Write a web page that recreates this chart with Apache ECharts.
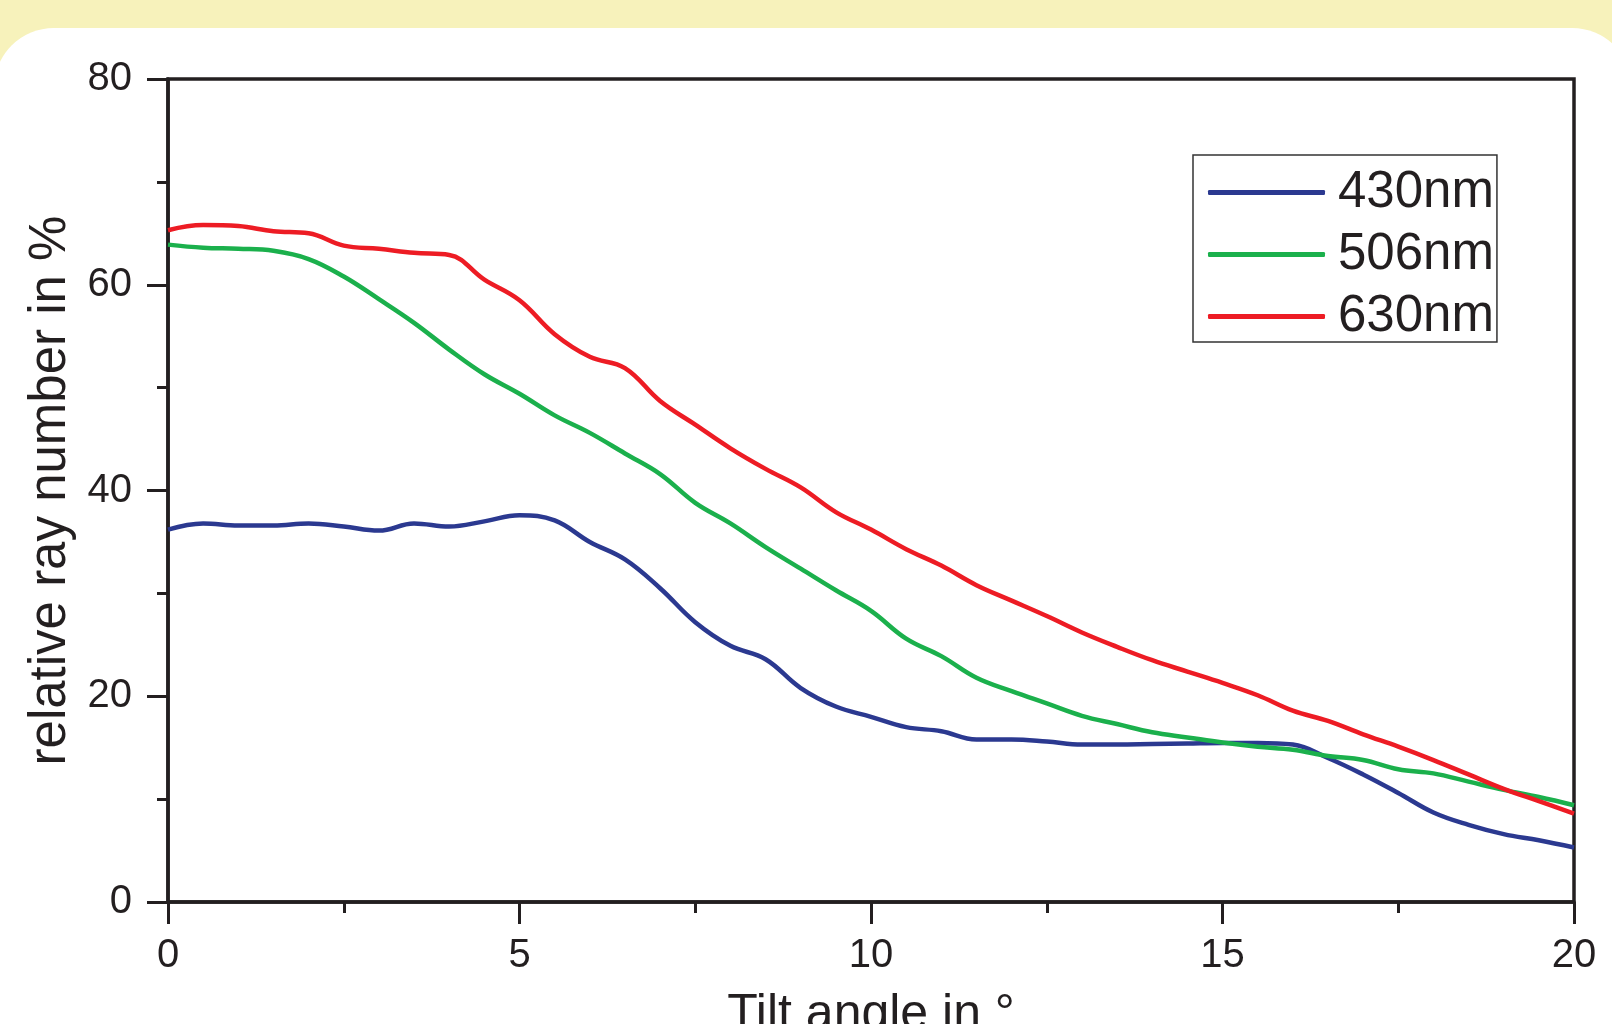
<!DOCTYPE html>
<html>
<head>
<meta charset="utf-8">
<script src="https://cdn.jsdelivr.net/npm/echarts@6/dist/echarts.min.js"></script>
<style>
html,body{margin:0;padding:0;background:#F7F2BB;}
#chart{width:1612px;height:1024px;}
</style>
</head>
<body>
<div id="chart"></div>
<script>
const angles = [0,0.5,1,1.5,2,2.5,3,3.5,4,4.5,5,5.5,6,6.5,7,7.5,8,8.5,9,9.5,10,10.5,11,11.5,12,12.5,13,13.5,14,14.5,15,15.5,16,16.5,17,17.5,18,18.5,19,19.5,20];
const nm430 = [36.2,36.8,36.6,36.6,36.8,36.5,36.1,36.8,36.5,37.0,37.6,37.1,35.0,33.3,30.5,27.2,24.9,23.6,20.8,19.0,18.0,17.0,16.6,15.8,15.8,15.6,15.3,15.3,15.35,15.4,15.45,15.45,15.3,14.0,12.4,10.6,8.7,7.5,6.6,6.0,5.3];
const nm506 = [63.9,63.6,63.5,63.3,62.5,60.8,58.6,56.3,53.7,51.3,49.4,47.3,45.6,43.6,41.6,38.8,36.8,34.5,32.4,30.3,28.3,25.6,23.9,21.8,20.5,19.3,18.1,17.3,16.5,16.0,15.5,15.1,14.8,14.2,13.8,12.9,12.5,11.7,10.9,10.2,9.4];
const nm630 = [65.3,65.8,65.7,65.2,65.0,63.8,63.5,63.1,62.9,60.5,58.5,55.2,53.0,51.9,48.7,46.4,44.1,42.1,40.3,37.9,36.2,34.3,32.7,30.8,29.3,27.8,26.2,24.8,23.5,22.4,21.3,20.1,18.6,17.6,16.3,15.1,13.8,12.4,11.0,9.8,8.6];
const seriesNames = ['430nm','506nm','630nm'];
const seriesColors = ['#2B3990','#1BB04C','#ED1C24'];
const xTitle = 'Tilt angle in °';
const yTitle = 'relative ray number in %';

const pair = arr => angles.map((a,i)=>[a,arr[i]]);
const dataSets = [nm430, nm506, nm630];
const axisColor = '#231F20';
const font = 'Liberation Sans, Arial, sans-serif';

const chart = echarts.init(document.getElementById('chart'));
chart.setOption({
  backgroundColor: '#F7F2BB',
  animation: false,
  graphic: [{
    type: 'rect', z: -1,
    shape: {x: -6, y: 28, width: 1638, height: 1100, r: 60},
    style: {fill: '#ffffff'}
  }],
  grid: {left: 168, right: 38, top: 79, bottom: 122, show: true, borderColor: axisColor, borderWidth: 3.5, backgroundColor: 'transparent', containLabel: false, outerBoundsMode: 'none'},
  legend: {
    left: 1193, top: 155, orient: 'vertical',
    icon: 'roundRect',
    itemWidth: 117, itemHeight: 5, itemGap: 11,
    padding: [12, 3, 0, 15],
    borderColor: '#333', borderWidth: 1.5, backgroundColor: '#fff',
    textStyle: {fontSize: 51, lineHeight: 51, color: axisColor, fontFamily: font, padding: [0,0,0,8]},
    data: seriesNames
  },
  xAxis: {
    type: 'value', min: 0, max: 20, interval: 5,
    name: xTitle, nameLocation: 'middle', nameGap: 88,
    nameTextStyle: {fontSize: 50, color: axisColor, fontFamily: font},
    axisLine: {lineStyle: {color: axisColor, width: 3.5}},
    axisTick: {length: 22, lineStyle: {color: axisColor, width: 3}},
    minorTick: {show: true, splitNumber: 2, length: 11, lineStyle: {color: axisColor, width: 3}},
    splitLine: {show: false},
    axisLabel: {fontSize: 40, color: axisColor, fontFamily: font, margin: 34}
  },
  yAxis: {
    type: 'value', min: 0, max: 80, interval: 20,
    name: yTitle, nameLocation: 'middle', nameGap: 86,
    nameTextStyle: {fontSize: 51, color: axisColor, fontFamily: font},
    axisLine: {lineStyle: {color: axisColor, width: 3.5}},
    axisTick: {length: 21, lineStyle: {color: axisColor, width: 3}},
    minorTick: {show: true, splitNumber: 2, length: 11, lineStyle: {color: axisColor, width: 3}},
    splitLine: {show: false},
    axisLabel: {fontSize: 40, color: axisColor, fontFamily: font, margin: 36}
  },
  series: seriesNames.map((n,i)=>({
    name: n, type: 'line', data: pair(dataSets[i]),
    smooth: 0.4, showSymbol: false, symbol: 'none',
    lineStyle: {color: seriesColors[i], width: 4.5},
    itemStyle: {color: seriesColors[i]}
  }))
});
</script>
</body>
</html>
